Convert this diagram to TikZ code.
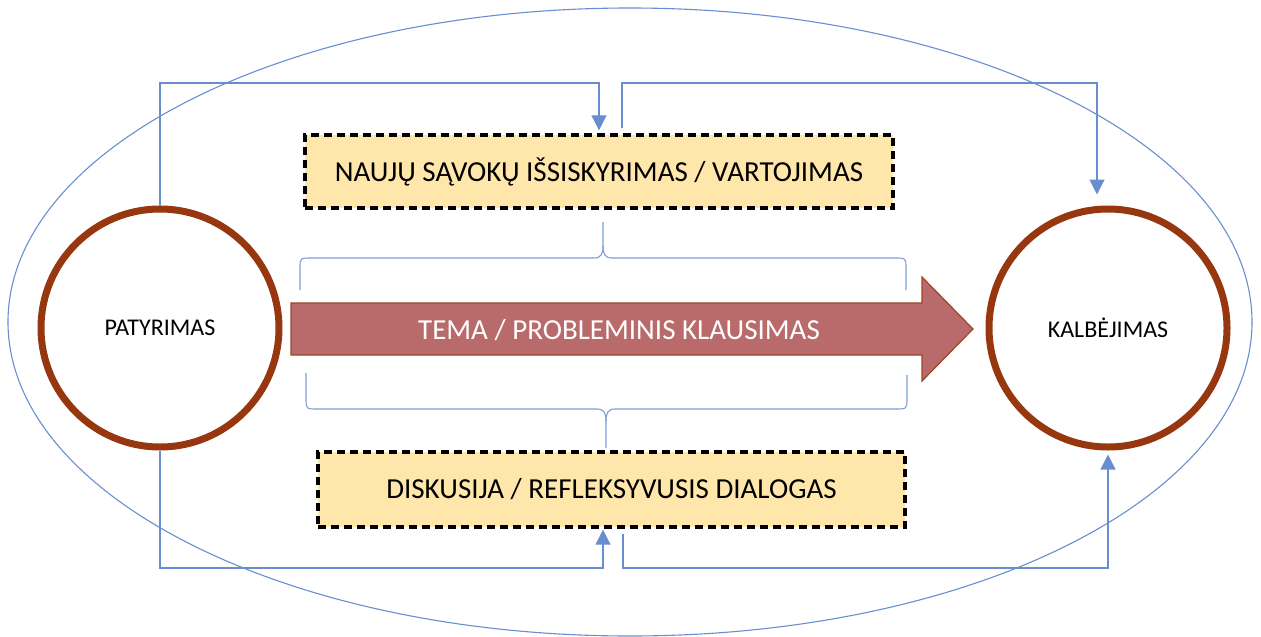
\documentclass[tikz,border=0pt]{standalone}
\usepackage{fontspec}
\setmainfont{Carlito}
\usetikzlibrary{arrows.meta,positioning}

\definecolor{brownring}{RGB}{150,55,15}
\definecolor{linkblue}{RGB}{68,114,196}
\definecolor{boxfill}{RGB}{255,230,170}
\definecolor{arrowfill}{RGB}{185,106,106}
\definecolor{arrowline}{RGB}{160,68,40}

\begin{document}
\begin{tikzpicture}[x=1pt,y=-1pt,>={Triangle[width=15pt,length=15pt]},node distance=948pt,
    ring/.style={circle, draw=brownring, line width=7pt, minimum size=238pt, inner sep=0pt, font=\fontsize{24}{29}\selectfont},
    notebox/.style={draw=black, fill=boxfill, line width=3.4pt, dash pattern=on 8pt off 5pt, inner sep=0pt, font=\fontsize{29}{35}\selectfont},
    link/.style={draw=linkblue!80, line width=1.1pt},
    brace/.style={draw=linkblue!70, line width=1.1pt}]
    \useasboundingbox (0,0) rectangle (1261,637);

    \draw[link] (630,322) ellipse [x radius=622, y radius=314];

    \node[ring] (pat) at (160,328) {PATYRIMAS};
    \node[ring] (kal) [right of=pat] {KALBĖJIMAS};

    \node[notebox, minimum width=588pt, minimum height=73pt] (naujos) at (599,171.5) {NAUJŲ SĄVOKŲ IŠSISKYRIMAS / VARTOJIMAS};
    \node[notebox, minimum width=587pt, minimum height=75pt] (diskusija) at (611.5,489.5) {DISKUSIJA / REFLEKSYVUSIS DIALOGAS};

    % main arrow
    \filldraw[fill=arrowfill, draw=arrowline, line width=1.2pt] (291,303) -- (922,303) -- (922,277) -- (973,329) -- (922,381) -- (922,355) -- (291,355) -- cycle;
    \node[text=white, font=\fontsize{29}{35}\selectfont] (tema) at (619,330) {TEMA / PROBLEMINIS KLAUSIMAS};

    % braces
    \draw[brace] (300,290) -- (300,268) .. controls (300,258) .. (312,258) -- (594,258)
        .. controls (601,258) and (603,254) .. (603,246) -- (603,222);
    \draw[brace] (603,246) .. controls (603,254) and (605,258) .. (612,258) -- (894,258)
        .. controls (906,258) .. (906,268) -- (906,290);
    \draw[brace] (306,373) -- (306,398) .. controls (306,409) .. (318,409) -- (597,409)
        .. controls (604,409) and (606,413) .. (606,421) -- (606,448);
    \draw[brace] (606,421) .. controls (606,413) and (608,409) .. (615,409) -- (895,409)
        .. controls (907,409) .. (907,398) -- (907,375);

    \coordinate (up) at (0,83);
    \coordinate (dn) at (0,568);

    \draw[link,->,shorten >=3pt] (pat.north) -- (pat.north |- up) -| (naujos.north);
    \draw[link,->,shorten <=5pt,shorten >=11pt] ([xshift=23pt]naujos.north) -- ([xshift=23pt]naujos.north |- up) -| ([xshift=-11pt]kal.north);
    \draw[link,->,shorten >=1pt] (pat.south) -- (pat.south |- dn) -| ([xshift=-8.5pt]diskusija.south);
    \draw[link,->,shorten <=5pt,shorten >=4pt] ([xshift=11.5pt]diskusija.south) -- ([xshift=11.5pt]diskusija.south |- dn) -| (kal.south);
\end{tikzpicture}
\end{document}
